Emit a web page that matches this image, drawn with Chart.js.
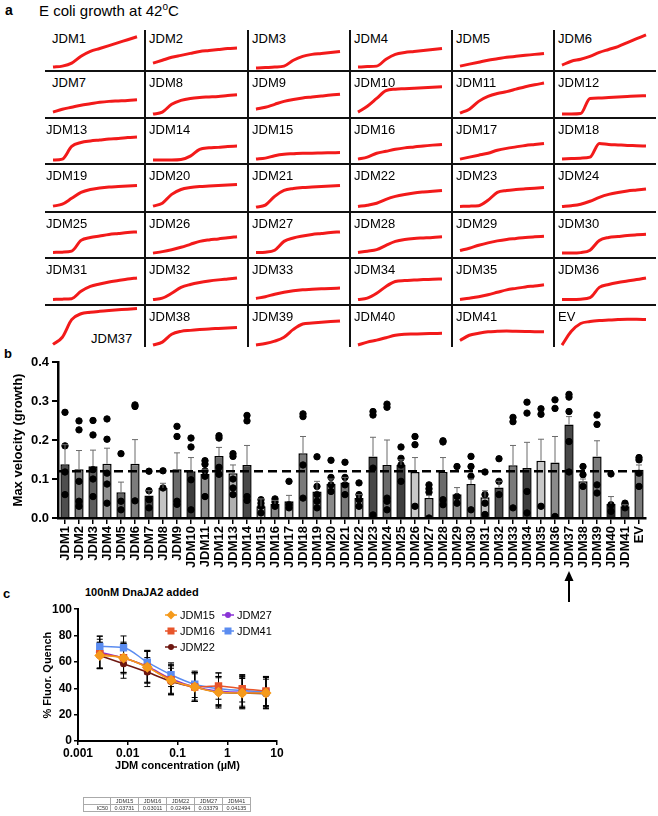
<!DOCTYPE html>
<html>
<head>
<meta charset="utf-8">
<script src="https://cdn.jsdelivr.net/npm/chart.js@4.4.1/dist/chart.umd.min.js"></script>
<style>
  body { margin: 0; background: #fff; font-family: "Liberation Sans", Arial, sans-serif; color: #000; }
  #page { position: relative; width: 658px; height: 816px; overflow: hidden; }
  .hl { position: absolute; height: 2px; background: #111; }
  .vl { position: absolute; width: 2px; background: #111; }
  .cell-label { position: absolute; font-size: 13px; line-height: 13px; white-space: nowrap; }
  .panel-tag { position: absolute; font-weight: bold; font-size: 13px; }
  canvas { position: absolute; }
  #legendC { position: absolute; left: 165px; top: 609px; font-size: 11px; }
  #legendC .item { position: absolute; white-space: nowrap; display: flex; align-items: center; }
  #legendC svg { margin-right: 3px; }
  #ic50 { position: absolute; left: 83px; top: 797px; border-collapse: collapse; font-size: 5.5px; color: #333; }
  #ic50 td { border: 1px solid #aaa; height: 6px; line-height: 6px; padding: 0 2px; text-align: center; width: 23px; }
  #ic50 td:first-child { text-align: right; width: 22px; }
</style>
</head>
<body>
<div id="page">
  <div class="panel-tag" style="left:5px;top:2px;font-size:14px;">a</div>
  <div style="position:absolute;left:39px;top:1px;font-size:15px;">E coli growth at 42<sup style="font-size:10px;">o</sup>C</div>
  <div class="panel-tag" style="left:4px;top:346px;">b</div>
  <div class="panel-tag" style="left:3px;top:586px;">c</div>
  <div style="position:absolute;left:85px;top:586px;font-size:11px;font-weight:bold;">100nM DnaJA2 added</div>
  <canvas id="velocity" width="658" height="260" style="left:0;top:350px;"></canvas>
  <canvas id="quench" width="300" height="200" style="left:0;top:600px;"></canvas>
  <div id="legendC"></div>
  <table id="ic50"></table>
</div>
<script>
// ---------- panel a: growth traces, height of red trace above the cell floor ----------
const growthNames = ['JDM1','JDM2','JDM3','JDM4','JDM5','JDM6','JDM7','JDM8','JDM9','JDM10','JDM11','JDM12',
  'JDM13','JDM14','JDM15','JDM16','JDM17','JDM18','JDM19','JDM20','JDM21','JDM22','JDM23','JDM24',
  'JDM25','JDM26','JDM27','JDM28','JDM29','JDM30','JDM31','JDM32','JDM33','JDM34','JDM35','JDM36',
  'JDM37','JDM38','JDM39','JDM40','JDM41','EV'];
const growthCurves = [
  [4,5,8,15,20,23,26,29,32,35],
  [8,11,14,16,18,20,21,22,23,23.5],
  [3,3.5,4,5,11,15,17,18,19,20],
  [4,4.5,5,12,17,19,20,21,22,23],
  [5,7,9,11,12.5,14,15,16,17,18],
  [6,10,12,15,19,22,25,29,33,37],
  [6,9,11,13,14.5,16,17,17.5,18,18.7],
  [4,6,14,18,20,21,21.5,22,23,23.7],
  [9,11,14,17,19,20.5,21.5,22.5,23.5,24.3],
  [6,12,20,28,29.5,30,30.5,31,31.5,32],
  [5,9,17,22,25,27,29.5,32,34,35.7],
  [4,4,4.5,20,20.5,21,21.5,22,22.5,22.7],
  [4,5,18,22,23.5,24.5,25.5,26,27,27.7],
  [4,4,4,4.5,8,15,16.5,17,18,18.3],
  [5,6,8.5,10,10.5,11,11,11.3,11.5,11.7],
  [5,7,11,13,15,16.5,17.5,18.5,19.3,20],
  [5,7,9,11,14,16,17.5,19,20,21],
  [5,5.5,6,7,21,20,19.5,19,18.7,18.3],
  [6,8,14,20,23,24.5,25.5,26,26.5,27],
  [6,9,18,23,25,26,26.5,27,27.5,28],
  [5,7,16,22,24,25,25.5,26,26.5,27],
  [5.7,7,9,13,16,18,19.5,20.5,21.3,22],
  [5.7,6,6.5,12,20,22,23,23.7,24.3,25],
  [5.6,6.5,8,11,15,18,20,21.5,22.5,23.5],
  [5.7,6,7,18,21,22.5,24,25,26,26.7],
  [5,6.5,8.5,11,14,17,18.5,19.5,20.7,21.7],
  [5.7,6,8,17,20.5,22.5,24,25,26,26.7],
  [5.7,7,8.5,13,17,19,20,20.5,21,21.7],
  [7.7,10,13,15.5,17.5,19,20,21,21.7,22.3],
  [5,5,5.5,8,18,21,22,23,23.7,24.3],
  [5.7,6,6.5,14,19,21.5,23.5,25,26.5,27.7],
  [5.7,7,12,18,21,23,24.5,25.7,26.7,27.7],
  [6.7,8.5,11,13,14.5,15.5,16,16.5,17,17.3],
  [5.7,7,12,19,24,25,25.5,26,26.3,26.7],
  [5.7,7,8.5,10.5,13,15.5,17,18.5,19.5,20.7],
  [5.7,5.7,6,7.5,18,21,23,24.5,26,27.7],
  [2.7,10,28,34,35.5,36.5,37.3,38,38.7,39.3],
  [2,5,13,16,17,17.8,18.5,19,19.5,20],
  [2,3.5,6,10,18,23.5,24.5,25.3,26,26.7],
  [2,5,7,9.5,12,13,13.3,13.6,13.8,14],
  [6.7,12,14,15.5,16,16.3,16,15.8,15.7,15.5],
  [2,16,24,26,27,27.5,28,28.3,28.3,28]
];

// ---------- panel b: max velocity ----------
const strains = growthNames;
const meanVelocity = [0.138,0.125,0.133,0.139,0.066,0.139,0.058,0.077,0.125,0.120,0.113,0.159,
  0.115,0.136,0.030,0.036,0.043,0.166,0.068,0.087,0.091,0.051,0.158,0.136,
  0.136,0.118,0.051,0.118,0.061,0.087,0.053,0.078,0.135,0.128,0.147,0.142,
  0.240,0.094,0.158,0.036,0.030,0.124];
const semVelocity = [0.050,0.048,0.041,0.040,0.026,0.062,0.012,0.012,0.042,0.035,0.012,0.022,
  0.021,0.050,0.019,0.009,0.015,0.043,0.026,0.013,0.013,0.009,0.049,0.064,
  0.013,0.037,0.007,0.037,0.017,0.013,0.017,0.016,0.051,0.066,0.055,0.067,
  0.020,0.006,0.040,0.019,0.004,0.012];
const replicates = [
  [0.271,0.185,0.118,0.060],[0.249,0.226,0.094,0.043,0.030],[0.250,0.213,0.124,0.100,0.055],
  [0.254,0.202,0.115,0.087,0.038],[0.165,0.043,0.021],[0.290,0.286,0.044],
  [0.120,0.070,0.047,0.026],[0.121,0.077],[0.235,0.209,0.043,0.035],
  [0.205,0.182,0.098,0.021],[0.147,0.138,0.121,0.107,0.055],[0.211,0.205,0.130,0.112],
  [0.165,0.158,0.100,0.077,0.060],[0.263,0.249,0.055,0.045],[0.047,0.038,0.030,0.013],
  [0.049,0.041,0.030],[0.094,0.034,0.026],[0.267,0.260,0.136,0.051],
  [0.157,0.081,0.060,0.043,0.026],[0.148,0.104,0.085,0.068],[0.143,0.104,0.085,0.060],
  [0.090,0.060,0.047,0.030],[0.273,0.264,0.128,0.008],[0.292,0.284,0.051,0.043,0.021],
  [0.182,0.153,0.136,0.094],[0.209,0.188,0.030],[0.085,0.075,0.066,0.000],
  [0.198,0.195,0.047,0.034],[0.132,0.055,0.038],[0.158,0.132,0.107,0.021],
  [0.118,0.060,0.038,0.009],[0.152,0.094,0.060],[0.258,0.247,0.026],
  [0.297,0.269,0.068,0.013],[0.280,0.266,0.030],[0.303,0.281,0.004],
  [0.317,0.310,0.273,0.196,0.118],[0.132,0.111,0.081],[0.264,0.240,0.085,0.064],
  [0.113,0.034,0.017],[0.038,0.034,0.026],[0.155,0.149,0.115,0.081]
];
const controlLevel = 0.12;
const markedStrain = 'JDM37';
const velocityTicks = [0, 0.1, 0.2, 0.3, 0.4];

// ---------- panel c: fluorescence quench ----------
const concentrations = [0.00274, 0.00823, 0.0247, 0.0741, 0.222, 0.667, 2, 6];
const quenchJDM15 = [64.9, 63.0, 56.0, 46.0, 41.0, 37.0, 36.4, 36.4];
const quenchJDM16 = [66.2, 63.1, 56.0, 46.5, 41.0, 41.7, 39.6, 37.9];
const quenchJDM22 = [64.9, 58.6, 52.3, 45.2, 41.0, 37.0, 36.4, 35.9];
const quenchJDM27 = [67.4, 63.0, 56.6, 47.2, 41.0, 37.9, 37.0, 37.0];
const quenchJDM41 = [71.7, 70.7, 59.8, 50.3, 43.0, 39.6, 38.4, 37.1];
const errJDM15 = [10, 11, 12, 11, 11, 12, 12, 12];
const errJDM16 = [11, 11, 12, 11, 11, 10, 10, 11];
const errJDM22 = [10, 11, 11, 10, 10, 11, 11, 11];
const errJDM27 = [12, 12, 12, 11, 11, 11, 12, 12];
const errJDM41 = [8, 9, 9, 9, 10, 12, 12, 11];
const concTicks = [0.001, 0.01, 0.1, 1, 10];
const ic50Names = ['JDM15', 'JDM16', 'JDM22', 'JDM27', 'JDM41'];
const ic50Values = ['0.03731', '0.03011', '0.02494', '0.03379', '0.04135'];

const FONT = '"Liberation Sans", Arial, sans-serif';
Chart.defaults.font.family = FONT;
Chart.defaults.color = '#000';

// ================= panel a =================
const page = document.getElementById('page');
const colLefts = [45, 145, 248, 350, 452, 554];
const rowTops = [27, 71, 118, 164, 212, 258, 305];
const rowBottoms = [71, 118, 164, 212, 258, 305, 347];

rowBottoms.slice(0, 6).forEach(y => {
  const d = document.createElement('div');
  d.className = 'hl';
  d.style.left = '45px'; d.style.width = '611px'; d.style.top = (y - 1) + 'px';
  page.appendChild(d);
});
colLefts.slice(1).forEach(x => {
  const d = document.createElement('div');
  d.className = 'vl';
  d.style.left = (x - 1) + 'px'; d.style.top = '30px'; d.style.height = '317px';
  page.appendChild(d);
});

growthNames.forEach((name, i) => {
  const row = Math.floor(i / 6), col = i % 6;
  const left = colLefts[col];
  const lab = document.createElement('div');
  lab.className = 'cell-label';
  lab.textContent = name;
  if (name === 'JDM37') {
    lab.style.left = (left + 46) + 'px';
    lab.style.top = (rowBottoms[row] - 15) + 'px';
  } else {
    let dx = col === 0 ? (row < 2 ? 7 : 1) : 4;
    lab.style.left = (left + dx) + 'px';
    lab.style.top = (rowTops[row] + 5) + 'px';
  }
  page.appendChild(lab);

  const cv = document.createElement('canvas');
  cv.width = 88; cv.height = 48;
  cv.style.left = (left + 6) + 'px';
  cv.style.top = (rowBottoms[row] - 46) + 'px';
  page.appendChild(cv);
  new Chart(cv, {
    type: 'line',
    data: {
      labels: growthCurves[i].map((_, k) => k),
      datasets: [{ data: growthCurves[i], borderColor: '#f21a1a', borderWidth: 3,
        pointRadius: 0, cubicInterpolationMode: 'monotone', fill: false }]
    },
    options: {
      responsive: false, animation: false, events: [],
      layout: { padding: 2 },
      plugins: { legend: { display: false }, tooltip: { enabled: false } },
      scales: { x: { display: false }, y: { display: false, min: 0, max: 45 } }
    }
  });
});

// ================= panel b =================
const barShades = ['#4e4e4e','#7a7a7a','#5c5c5c','#909090','#666','#7c7c7c','#484848','#c4c4c4','#6a6a6a','#3e3e3e','#8e8e8e','#686868',
  '#b0b0b0','#484848','#b8b8b8','#888','#b8b8b8','#7a7a7a','#7a7a7a','#8a8a8a','#7a7a7a','#bcbcbc','#484848','#6a6a6a',
  '#3e3e3e','#c8c8c8','#8a8a8a','#6a6a6a','#8a8a8a','#888','#c0c0c0','#4c4c4c','#7a7a7a','#3e3e3e','#c8c8c8','#8a8a8a',
  '#484848','#8a8a8a','#7a7a7a','#222','#4e4e4e','#7a7a7a'];

const dotPoints = [];
replicates.forEach((vals, i) => vals.forEach(v => dotPoints.push({ x: strains[i], y: v })));

const velocityDecor = {
  id: 'velocityDecor',
  afterDatasetsDraw(chart) {
    const { ctx, scales: { x, y }, chartArea } = chart;
    ctx.save();
    // SEM whiskers
    ctx.strokeStyle = '#6a6a6a';
    ctx.lineWidth = 1;
    meanVelocity.forEach((m, i) => {
      const px = x.getPixelForValue(i);
      const top = y.getPixelForValue(m + semVelocity[i]);
      ctx.beginPath();
      ctx.moveTo(px, y.getPixelForValue(m));
      ctx.lineTo(px, top);
      ctx.moveTo(px - 3, top);
      ctx.lineTo(px + 3, top);
      ctx.stroke();
    });
    // control level
    const ly = y.getPixelForValue(controlLevel);
    ctx.setLineDash([9, 5]);
    ctx.lineWidth = 2.5;
    ctx.strokeStyle = '#000';
    ctx.beginPath();
    ctx.moveTo(chartArea.left, ly);
    ctx.lineTo(chartArea.right, ly);
    ctx.stroke();
    ctx.restore();
  },
  afterDraw(chart) {
    const { ctx, scales: { x } } = chart;
    const px = x.getPixelForValue(strains.indexOf(markedStrain));
    ctx.save();
    ctx.strokeStyle = '#000';
    ctx.fillStyle = '#000';
    ctx.lineWidth = 2;
    ctx.beginPath();
    ctx.moveTo(px, 252);
    ctx.lineTo(px, 228);
    ctx.stroke();
    ctx.beginPath();
    ctx.moveTo(px, 221);
    ctx.lineTo(px - 4.5, 231);
    ctx.lineTo(px + 4.5, 231);
    ctx.closePath();
    ctx.fill();
    ctx.restore();
  }
};

new Chart(document.getElementById('velocity'), {
  type: 'bar',
  data: {
    labels: strains,
    datasets: [
      { type: 'scatter', data: dotPoints, backgroundColor: '#000', borderColor: '#000',
        pointRadius: 3.2, order: 1 },
      { type: 'bar', data: meanVelocity, backgroundColor: barShades, borderColor: '#000',
        borderWidth: 1.5, barPercentage: 0.66, categoryPercentage: 1, order: 2 }
    ]
  },
  options: {
    responsive: false, animation: false, events: [],
    layout: { padding: { top: 12, right: 12, left: 0, bottom: 0 } },
    plugins: { legend: { display: false }, tooltip: { enabled: false } },
    scales: {
      x: {
        type: 'category',
        ticks: { autoSkip: false, minRotation: 90, maxRotation: 90, padding: 2,
          font: { weight: 'bold', size: 13 }, color: '#000' },
        grid: { drawOnChartArea: false, offset: false, tickLength: 6, color: '#000', lineWidth: 1.5 },
        border: { color: '#000', width: 2.5 },
        afterFit: s => { s.height = 92; }
      },
      y: {
        min: 0, max: 0.4,
        afterBuildTicks: s => { s.ticks = velocityTicks.map(v => ({ value: v })); },
        ticks: { callback: v => v.toFixed(1), padding: 3, font: { weight: 'bold', size: 13 }, color: '#000' },
        grid: { drawOnChartArea: false, tickLength: 6, color: '#000', lineWidth: 2 },
        border: { color: '#000', width: 2.5 },
        title: { display: true, text: 'Max velocity (growth)', font: { weight: 'bold', size: 13 },
          color: '#000', padding: { top: 11, bottom: 0 } },
        afterFit: s => { s.width = 58; }
      }
    }
  },
  plugins: [velocityDecor]
});

// ================= panel c =================
const quenchSeries = [
  { name: 'JDM15', values: quenchJDM15, err: errJDM15, color: '#f59a1c', style: 'rectRot', r: 4.5 },
  { name: 'JDM16', values: quenchJDM16, err: errJDM16, color: '#e8552a', style: 'rect', r: 4.2 },
  { name: 'JDM41', values: quenchJDM41, err: errJDM41, color: '#5b8cf0', style: 'rect', r: 4.2 },
  { name: 'JDM27', values: quenchJDM27, err: errJDM27, color: '#8a33d6', style: 'circle', r: 3.2 },
  { name: 'JDM22', values: quenchJDM22, err: errJDM22, color: '#6e1710', style: 'circle', r: 2.8 }
];

const errorBars = {
  id: 'errorBars',
  beforeDatasetsDraw(chart) {
    const { ctx, scales: { x, y } } = chart;
    ctx.save();
    ctx.strokeStyle = '#000';
    ctx.lineWidth = 1;
    chart.data.datasets.forEach(ds => {
      ds.data.forEach((p, i) => {
        const px = x.getPixelForValue(p.x);
        const hi = y.getPixelForValue(p.y + ds.errors[i]);
        const lo = y.getPixelForValue(p.y - ds.errors[i]);
        ctx.beginPath();
        ctx.moveTo(px, hi); ctx.lineTo(px, lo);
        ctx.moveTo(px - 3, hi); ctx.lineTo(px + 3, hi);
        ctx.moveTo(px - 3, lo); ctx.lineTo(px + 3, lo);
        ctx.stroke();
      });
    });
    ctx.restore();
  }
};

new Chart(document.getElementById('quench'), {
  type: 'line',
  data: {
    datasets: quenchSeries.map(s => ({
      label: s.name,
      data: concentrations.map((c, i) => ({ x: c, y: s.values[i] })),
      errors: s.err,
      borderColor: s.color, backgroundColor: s.color,
      pointStyle: s.style, pointRadius: s.r, borderWidth: 1.5,
      cubicInterpolationMode: 'monotone'
    }))
  },
  options: {
    responsive: false, animation: false, events: [],
    layout: { padding: { top: 8, right: 23, left: 0, bottom: 0 } },
    plugins: { legend: { display: false }, tooltip: { enabled: false } },
    scales: {
      x: {
        type: 'logarithmic', min: 0.001, max: 10,
        afterBuildTicks: s => { s.ticks = concTicks.map(v => ({ value: v })); },
        ticks: { callback: v => String(v), padding: 1, font: { weight: 'bold', size: 12 }, color: '#000' },
        grid: { drawOnChartArea: false, tickLength: 4, color: '#000', lineWidth: 1.5 },
        border: { color: '#000', width: 2 },
        title: { display: true, text: 'JDM concentration (µM)', font: { weight: 'bold', size: 11 },
          color: '#000', padding: { top: 0, bottom: 27 } },
        afterFit: s => { s.height = 59; }
      },
      y: {
        min: 0, max: 100,
        ticks: { stepSize: 20, padding: 2, font: { weight: 'bold', size: 12 }, color: '#000' },
        grid: { drawOnChartArea: false, tickLength: 4, color: '#000', lineWidth: 1.5 },
        border: { color: '#000', width: 2 },
        title: { display: true, text: '% Fluor. Quench', font: { weight: 'bold', size: 11 },
          color: '#000', padding: { top: 41, bottom: 0 } },
        afterFit: s => { s.width = 78; }
      }
    }
  },
  plugins: [errorBars]
});

// legend for panel c, two columns as in the figure
const legendRows = [['JDM15', 'JDM27'], ['JDM16', 'JDM41'], ['JDM22']];
const legendBox = document.getElementById('legendC');
function markerSvg(s) {
  let shape;
  if (s.style === 'rect') shape = `<rect x="2.5" y="1.5" width="7" height="7" fill="${s.color}"/>`;
  else if (s.style === 'rectRot') shape = `<polygon points="6,0.5 10.5,5 6,9.5 1.5,5" fill="${s.color}"/>`;
  else shape = `<circle cx="6" cy="5" r="3" fill="${s.color}"/>`;
  return `<svg width="12" height="10"><line x1="0" y1="5" x2="12" y2="5" stroke="${s.color}" stroke-width="1.5"/>${shape}</svg>`;
}
legendRows.forEach((row, r) => row.forEach((name, c) => {
  const s = quenchSeries.find(q => q.name === name);
  const it = document.createElement('div');
  it.className = 'item';
  it.style.left = (c * 57) + 'px';
  it.style.top = (r * 16) + 'px';
  it.innerHTML = markerSvg(s) + '<span>' + name + '</span>';
  legendBox.appendChild(it);
}));

// IC50 table
const tbl = document.getElementById('ic50');
tbl.innerHTML = '<tr><td></td>' + ic50Names.map(n => '<td>' + n + '</td>').join('') + '</tr>' +
  '<tr><td>IC50</td>' + ic50Values.map(v => '<td>' + v + '</td>').join('') + '</tr>';
</script>
</body>
</html>
